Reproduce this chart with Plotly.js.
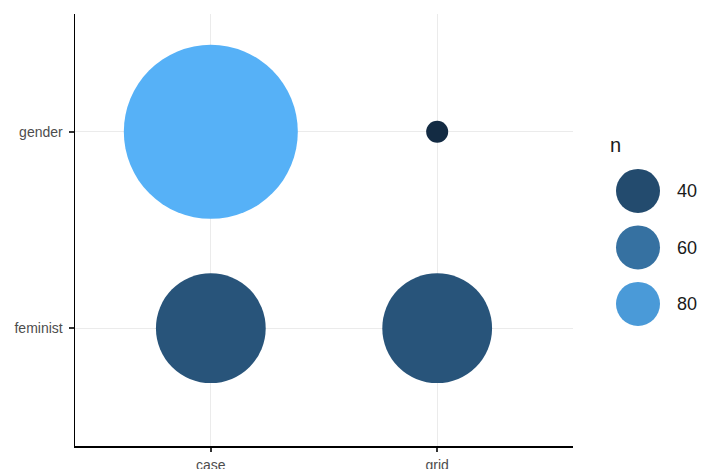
<!DOCTYPE html>
<html>
<head>
<meta charset="utf-8">
<script src="https://cdn.plot.ly/plotly-3.0.1.min.js"></script>
<style>html,body{margin:0;padding:0;background:#fff;}#chart{width:701px;height:469px;}</style>
</head>
<body>
<div id="chart"></div>
<script>
// ---- data ----
const xCategories = ['case', 'grid'];
const yCategories = ['feminist', 'gender'];
const pointX = ['case', 'grid', 'case', 'grid'];
const pointY = ['gender', 'gender', 'feminist', 'feminist'];
const nValues = [91, 22, 45, 45];
const legendBreaks = [40, 60, 80];
const legendLabels = ['40', '60', '80'];

// ---- colour scale (ggplot default gradient, Lab interpolation) ----
const lowColor = '#132B43', highColor = '#56B1F7';
function hexToRgb(h){h=h.replace('#','');return [0,2,4].map(i=>parseInt(h.substr(i,2),16));}
function toLin(c){c/=255;return c<=0.04045?c/12.92:Math.pow((c+0.055)/1.055,2.4);}
function fromLin(c){c=c<=0.0031308?12.92*c:1.055*Math.pow(c,1/2.4)-0.055;return Math.round(Math.max(0,Math.min(1,c))*255);}
const WN=[0.95047,1.0,1.08883];
function fLab(t){return t>0.008856?Math.cbrt(t):(7.787*t+16/116);}
function fInv(t){const t3=t*t*t;return t3>0.008856?t3:(t-16/116)/7.787;}
function rgbToLab(rgb){const [r,g,b]=rgb.map(toLin);
  const X=(0.4124*r+0.3576*g+0.1805*b)/WN[0],Y=(0.2126*r+0.7152*g+0.0722*b)/WN[1],Z=(0.0193*r+0.1192*g+0.9505*b)/WN[2];
  const fx=fLab(X),fy=fLab(Y),fz=fLab(Z);return [116*fy-16,500*(fx-fy),200*(fy-fz)];}
function labToRgb(lab){const fy=(lab[0]+16)/116,fx=fy+lab[1]/500,fz=fy-lab[2]/200;
  const X=fInv(fx)*WN[0],Y=fInv(fy)*WN[1],Z=fInv(fz)*WN[2];
  const r=3.2406*X-1.5372*Y-0.4986*Z,g=-0.9689*X+1.8758*Y+0.0415*Z,b=0.0557*X-0.2040*Y+1.0570*Z;
  return 'rgb('+fromLin(r)+','+fromLin(g)+','+fromLin(b)+')';}
const labLo=rgbToLab(hexToRgb(lowColor)), labHi=rgbToLab(hexToRgb(highColor));
const colorscale=[];
for(let i=0;i<=20;i++){const t=i/20;colorscale.push([t,labToRgb(labLo.map((v,k)=>v+(labHi[k]-v)*t))]);}
const nMin=Math.min(...nValues), nMax=Math.max(...nValues);

// ---- size scale (area) ----
const sizeRange=[22,174];
const sizes=nValues.map(n=>sizeRange[0]+(sizeRange[1]-sizeRange[0])*Math.sqrt((n-nMin)/(nMax-nMin)));

const W=701,H=469,ML=75,MB=23;
const plotW=W-ML, plotH=H-MB;
const px2x=p=>(p-ML)/plotW;

const traces=[
  {type:'scatter',mode:'markers',x:pointX,y:pointY,xaxis:'x',yaxis:'y',
   marker:{size:sizes,sizemode:'diameter',color:nValues,colorscale:colorscale,cmin:nMin,cmax:nMax,showscale:false,opacity:1,line:{width:0}},
   hoverinfo:'none',showlegend:false},
  {type:'scatter',mode:'markers',x:legendBreaks.map(()=>0),y:legendBreaks,xaxis:'x2',yaxis:'y2',
   marker:{size:44,color:legendBreaks,colorscale:colorscale,cmin:nMin,cmax:nMax,showscale:false,line:{width:0}},
   hoverinfo:'none',showlegend:false}
];

const layout={
  width:W,height:H,margin:{l:ML,r:0,t:0,b:MB,pad:0},
  paper_bgcolor:'#fff',plot_bgcolor:'rgba(0,0,0,0)',
  font:{family:'Liberation Sans, Arial, sans-serif'},
  showlegend:false,
  xaxis:{domain:[0,px2x(573)],type:'category',categoryorder:'array',categoryarray:xCategories,
    range:[-0.6,1.6],showgrid:true,gridcolor:'#EBEBEB',gridwidth:1,zeroline:false,
    showline:true,linecolor:'#000',linewidth:1.5,ticks:'outside',ticklen:4,tickwidth:1.5,tickcolor:'#333',
    tickfont:{size:14,color:'#4D4D4D'},ticklabelstandoff:2,fixedrange:true},
  yaxis:{domain:[0,1-14/plotH],type:'category',categoryorder:'array',categoryarray:yCategories,
    range:[-0.6,1.6],showgrid:true,gridcolor:'#EBEBEB',gridwidth:1,zeroline:false,
    showline:true,linecolor:'#000',linewidth:1.5,ticks:'outside',ticklen:5,tickwidth:2,tickcolor:'#333',
    tickfont:{size:14,color:'#4D4D4D'},ticklabelstandoff:3,fixedrange:true},
  xaxis2:{domain:[px2x(604),px2x(672)],range:[-1,1],anchor:'y2',visible:false,fixedrange:true},
  yaxis2:{domain:[0,1],anchor:'x2',side:'right',range:[130.3,-27.6],showgrid:false,zeroline:false,showline:false,
    ticks:'',tickvals:legendBreaks,ticktext:legendLabels,tickfont:{size:18,color:'#1A1A1A'},ticklabelstandoff:4,fixedrange:true},
  annotations:[{text:'n',xref:'paper',yref:'paper',x:px2x(608),y:1-145/plotH,xanchor:'left',yanchor:'middle',
    showarrow:false,font:{size:20,color:'#1A1A1A'}}]
};
Plotly.newPlot('chart',traces,layout,{displayModeBar:false,staticPlot:true});
</script>
</body>
</html>
